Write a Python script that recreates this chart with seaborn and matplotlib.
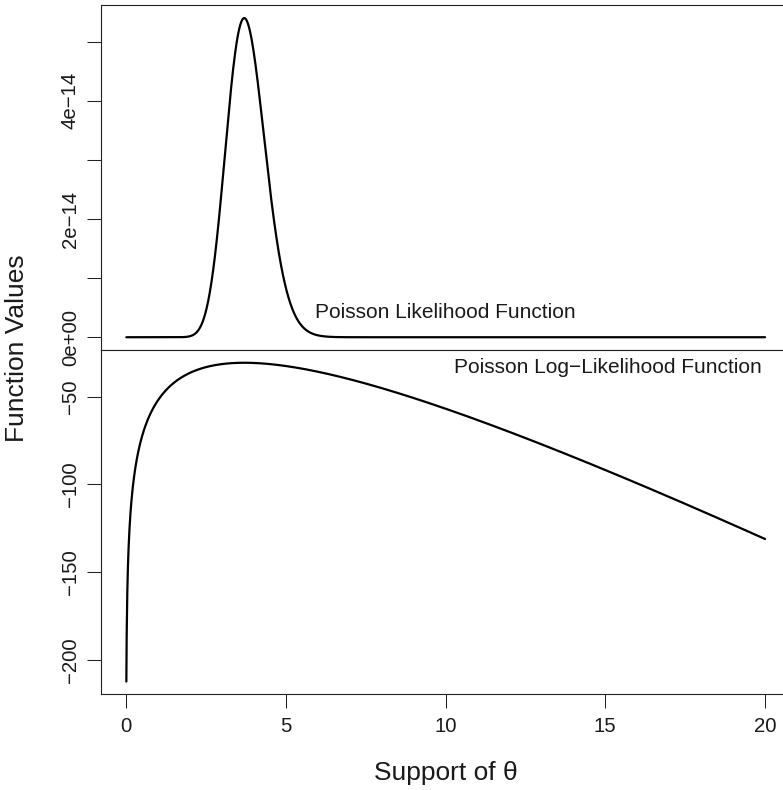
import math
import numpy as np
import pandas as pd
import matplotlib
matplotlib.use("Agg")
import matplotlib.pyplot as plt
import seaborn as sns

# Observed Poisson counts
counts = [1, 3, 1, 5, 2, 6, 8, 11, 0, 0]
theta_min, theta_max = 0.01, 20.0
x_ticks = [0, 5, 10, 15, 20]
lik_ticks = [0, 1e-14, 2e-14, 3e-14, 4e-14, 5e-14]
lik_tick_labels = ["0e+00", "", "2e\u221214", "", "4e\u221214", ""]
loglik_ticks = [-200, -150, -100, -50]
loglik_tick_labels = ["\u2212200", "\u2212150", "\u2212100", "\u221250"]
lik_label = "Poisson Likelihood Function"
loglik_label = "Poisson Log\u2212Likelihood Function"

# Likelihood and log-likelihood over the support of theta
y = np.array(counts, dtype=float)
n, s = len(y), y.sum()
log_fact = sum(math.lgamma(v + 1) for v in counts)
theta = np.linspace(theta_min, theta_max, 2000)
loglik = s * np.log(theta) - n * theta - log_fact
df = pd.DataFrame({"theta": theta, "lik": np.exp(loglik), "loglik": loglik})

sns.set_theme(style="white")
plt.rcParams["font.family"] = ["Liberation Sans", "DejaVu Sans"]
plt.rcParams["axes.unicode_minus"] = True

W, H = 783, 790
fig = plt.figure(figsize=(W / 100, H / 100), dpi=100)

def frac_rect(x0, y0, x1, y1):
    return [x0 / W, 1 - y1 / H, (x1 - x0) / W, (y1 - y0) / H]

ax_top = fig.add_axes(frac_rect(100.8, 5.3, 790.6, 350.0))
ax_bot = fig.add_axes(frac_rect(100.8, 350.0, 790.6, 694.3))

def r_limits(lo, hi):
    pad = 0.04 * (hi - lo)
    return lo - pad, hi + pad

line_kw = dict(color="black", linewidth=1.6, legend=False)
sns.lineplot(data=df, x="theta", y="lik", ax=ax_top, **line_kw)
sns.lineplot(data=df, x="theta", y="loglik", ax=ax_bot, **line_kw)

for ax in (ax_top, ax_bot):
    ax.set_xlim(*r_limits(theta_min, theta_max))
    ax.set_xlabel("")
    ax.set_ylabel("")
    for sp in ax.spines.values():
        sp.set_visible(True)
        sp.set_color("#222222")
        sp.set_linewidth(0.8)
    ax.tick_params(axis="both", length=10, width=0.75, color="#222222",
                   labelsize=14.7, pad=4, direction="out",
                   left=True, bottom=True, labelcolor="#1a1a1a")
    ax.tick_params(axis="x", pad=6)
    ax.tick_params(axis="y", pad=5)

ax_top.set_ylim(*r_limits(df["lik"].min(), df["lik"].max()))
ax_bot.set_ylim(*r_limits(df["loglik"].min(), df["loglik"].max()))

ax_top.set_xticks([])
ax_top.set_yticks(lik_ticks)
ax_top.set_yticklabels(lik_tick_labels)
ax_bot.set_xticks(x_ticks)
ax_bot.set_xticklabels([str(v) for v in x_ticks])
ax_bot.set_yticks(loglik_ticks)
ax_bot.set_yticklabels(loglik_tick_labels)

for ax in (ax_top, ax_bot):
    for lab in ax.get_yticklabels():
        lab.set_rotation(90)
        lab.set_va("center")
        lab.set_ha("right")

ax_top.text(5.92, 0.41e-14, lik_label, ha="left", va="center",
            fontsize=15, color="#1a1a1a")
ax_bot.text(19.9, -33.1, loglik_label, ha="right", va="center",
            fontsize=15, color="#1a1a1a")

fig.text(445.7 / W, 1 - 773 / H, "Support of \u03b8", ha="center", va="center",
         fontsize=19, color="#1a1a1a")
fig.text(17 / W, 1 - 348 / H, "Function Values", ha="center", va="center",
         rotation=90, fontsize=19, color="#1a1a1a")

fig.savefig("out.png", dpi=100)
